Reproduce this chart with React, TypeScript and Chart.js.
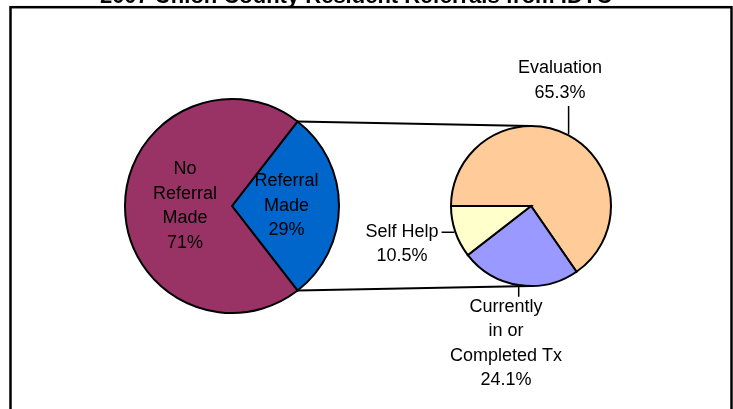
import { useEffect, useRef } from 'react';
import { Chart, registerables } from 'chart.js';

Chart.register(...registerables);

const titleText = '2007 Union County Resident Referrals from IDTC';

const referralCategories = ['Referral Made', 'No Referral Made'];
const referralValues = [29, 71];
const referralLabelLines = [
  ['Referral', 'Made', '29%'],
  ['No', 'Referral', 'Made', '71%'],
];

const detailCategories = ['Evaluation', 'Currently in or Completed Tx', 'Self Help'];
const detailValues = [65.3, 24.1, 10.5];
const detailLabelLines = [
  ['Evaluation', '65.3%'],
  ['Currently', 'in or', 'Completed Tx', '24.1%'],
  ['Self Help', '10.5%'],
];

const W = 733;
const H = 409;
const FONT = '18px "Liberation Sans", Arial, sans-serif';
const LINE_H = 24.5;

type Placement = { angle: number | null; dist: number };

const referralPlacement: Placement[] = [
  { angle: null, dist: 0.51 },
  { angle: null, dist: 0.44 },
];
const detailPlacement: Placement[] = [
  { angle: -77, dist: 1.61 },
  { angle: 100.3, dist: 1.75 },
  { angle: 163.6, dist: 1.68 },
];

const clamp = (v: number, a: number, b: number) => Math.max(a, Math.min(b, v));

function makeLabelPlugin(id: string, lines: string[][], placements: Placement[], leaders: boolean) {
  return {
    id,
    afterDatasetsDraw(chart: any) {
      const ctx = chart.ctx as CanvasRenderingContext2D;
      const meta = chart.getDatasetMeta(0);
      ctx.save();
      ctx.font = FONT;
      ctx.fillStyle = '#000';
      ctx.strokeStyle = '#000';
      ctx.textAlign = 'center';
      ctx.textBaseline = 'middle';
      meta.data.forEach((arc: any, i: number) => {
        const { x, y, startAngle, endAngle, outerRadius } = arc.getProps(
          ['x', 'y', 'startAngle', 'endAngle', 'outerRadius'],
          true
        );
        const mid = (startAngle + endAngle) / 2;
        const p = placements[i];
        const ang = p.angle == null ? mid : (p.angle * Math.PI) / 180;
        const cx = x + Math.cos(ang) * p.dist * outerRadius;
        const cy = y + Math.sin(ang) * p.dist * outerRadius;
        const L = lines[i];
        const h = L.length * LINE_H;
        if (leaders) {
          const w = Math.max(...L.map((t) => ctx.measureText(t).width));
          const ex = x + Math.cos(mid) * (outerRadius + 1);
          const ey = y + Math.sin(mid) * (outerRadius + 1);
          const pad = 3;
          const bx = clamp(ex, cx - w / 2 - pad, cx + w / 2 + pad);
          const by = clamp(ey, cy - h / 2 + 2, cy + h / 2 - 2 + pad);
          ctx.lineWidth = 1.5;
          ctx.beginPath();
          ctx.moveTo(ex, ey);
          ctx.lineTo(bx, by);
          ctx.stroke();
        }
        L.forEach((t, k) => ctx.fillText(t, cx, cy - h / 2 + LINE_H * (k + 0.5)));
      });
      ctx.restore();
    },
  };
}

const framePlugin = {
  id: 'frame',
  beforeDraw(chart: any) {
    const ctx = chart.ctx as CanvasRenderingContext2D;
    ctx.save();
    ctx.fillStyle = '#fff';
    ctx.fillRect(0, 0, W, H);
    ctx.strokeStyle = '#000';
    ctx.lineWidth = 2.5;
    ctx.strokeRect(10.5, 7.2, 721, 500);
    ctx.fillStyle = '#000';
    ctx.font = 'bold 22px "Liberation Sans", Arial, sans-serif';
    ctx.textAlign = 'center';
    ctx.textBaseline = 'alphabetic';
    ctx.fillText(titleText, 356, 3);
    ctx.restore();
  },
};

export default function App() {
  const leftRef = useRef<HTMLCanvasElement>(null);
  const rightRef = useRef<HTMLCanvasElement>(null);

  useEffect(() => {
    if (!leftRef.current || !rightRef.current) return;
    const arcStyle = {
      borderColor: '#000',
      borderWidth: 2,
      borderJoinStyle: 'miter' as const,
    };
    const left = new Chart(leftRef.current, {
      type: 'pie',
      data: {
        labels: referralCategories,
        datasets: [
          {
            data: referralValues,
            backgroundColor: ['#0066CC', '#993366'],
            ...arcStyle,
          },
        ],
      },
      options: {
        animation: false,
        responsive: false,
        radius: 107,
        rotation: 90 - (referralValues[0] / (referralValues[0] + referralValues[1])) * 180,
        layout: { padding: { left: 0, right: 269, top: 3, bottom: 0 } },
        plugins: { legend: { display: false }, tooltip: { enabled: false } },
      } as any,
      plugins: [framePlugin, makeLabelPlugin('leftLabels', referralLabelLines, referralPlacement, false)],
    });

    const connectorPlugin = {
      id: 'connectors',
      beforeDatasetsDraw(chart: any) {
        const ctx = chart.ctx as CanvasRenderingContext2D;
        const la = left.getDatasetMeta(0).data[0] as any;
        const lp = la.getProps(['x', 'y', 'startAngle', 'endAngle', 'outerRadius'], true);
        const ra = chart.getDatasetMeta(0).data[0] as any;
        const rp = ra.getProps(['x', 'y', 'outerRadius'], true);
        ctx.save();
        ctx.strokeStyle = '#000';
        ctx.lineWidth = 2;
        ctx.beginPath();
        ctx.moveTo(lp.x + Math.cos(lp.startAngle) * lp.outerRadius, lp.y + Math.sin(lp.startAngle) * lp.outerRadius);
        ctx.lineTo(rp.x, rp.y - rp.outerRadius);
        ctx.moveTo(lp.x + Math.cos(lp.endAngle) * lp.outerRadius, lp.y + Math.sin(lp.endAngle) * lp.outerRadius);
        ctx.lineTo(rp.x, rp.y + rp.outerRadius);
        ctx.stroke();
        ctx.restore();
      },
    };

    const right = new Chart(rightRef.current, {
      type: 'pie',
      data: {
        labels: detailCategories,
        datasets: [
          {
            data: detailValues,
            backgroundColor: ['#FFCC99', '#9999FF', '#FFFFCC'],
            ...arcStyle,
          },
        ],
      },
      options: {
        animation: false,
        responsive: false,
        radius: 80,
        rotation: 270,
        layout: { padding: { left: 329, right: 0, top: 3, bottom: 0 } },
        plugins: { legend: { display: false }, tooltip: { enabled: false } },
      } as any,
      plugins: [connectorPlugin, makeLabelPlugin('rightLabels', detailLabelLines, detailPlacement, true)],
    });

    return () => {
      right.destroy();
      left.destroy();
    };
  }, []);

  return (
    <div style={{ position: 'fixed', left: 0, top: 0, width: W, height: H, background: '#fff' }}>
      <canvas ref={leftRef} width={W} height={H} style={{ position: 'absolute', left: 0, top: 0 }} />
      <canvas ref={rightRef} width={W} height={H} style={{ position: 'absolute', left: 0, top: 0 }} />
    </div>
  );
}
